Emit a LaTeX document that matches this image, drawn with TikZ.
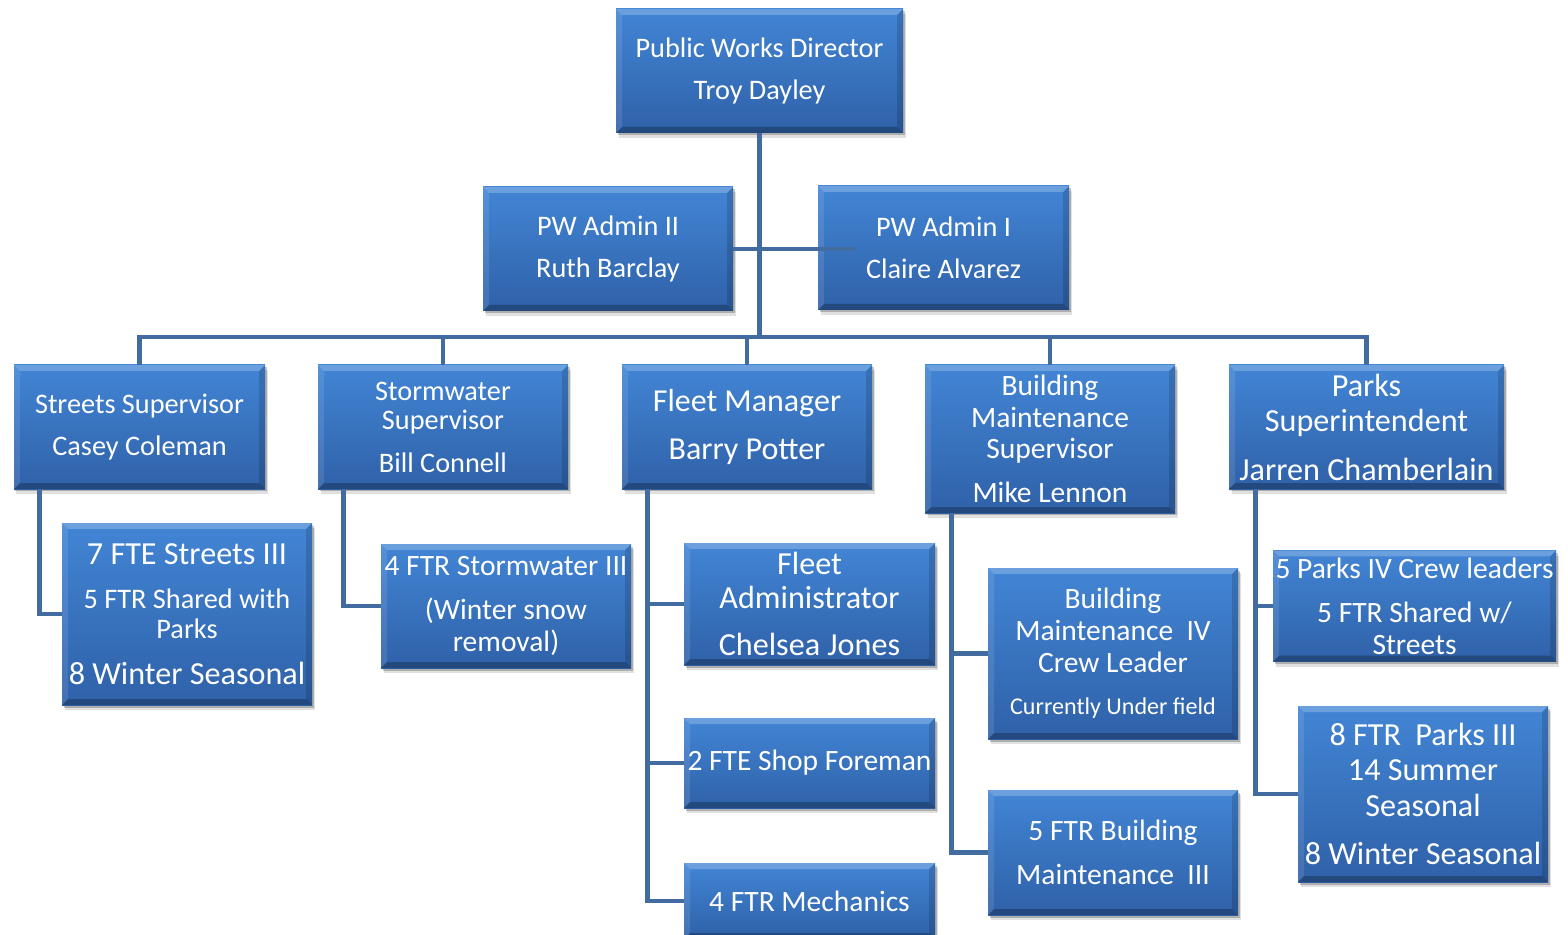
\documentclass[tikz,border=0pt]{standalone}
\usepackage{fontspec}
\setmainfont{Carlito}
\usetikzlibrary{shadows}

% text sizes (1 unit = 0.02cm)
\newcommand\fsA{\fontsize{16.1pt}{17pt}\selectfont}
\newcommand\fsB{\fontsize{16.8pt}{18.1pt}\selectfont}
\newcommand\fsC{\fontsize{18.3pt}{19.8pt}\selectfont}
\newcommand\fsP{\fontsize{18.3pt}{20.4pt}\selectfont}
\newcommand\fsD{\fontsize{18.2pt}{20.4pt}\selectfont}
\newcommand\fsE{\fontsize{13.7pt}{14pt}\selectfont}

\definecolor{boxtop}{RGB}{66,133,213}
\definecolor{boxbot}{RGB}{47,97,168}
\definecolor{linec}{RGB}{66,108,160}

\tikzset{
  pw/.style={rectangle, inner sep=0pt, text=white, align=center,
    top color=boxtop, bottom color=boxbot,
    drop shadow={shadow xshift=0.05cm, shadow yshift=-0.10cm, opacity=0.12, fill=black},
    drop shadow={shadow xshift=0.03cm, shadow yshift=-0.05cm, opacity=0.22, fill=black},
    path picture={
      % bevelled edges
      \fill[white, opacity=0.22]
        (path picture bounding box.north west) -- (path picture bounding box.north east)
        -- ([shift={(-0.12cm,-0.12cm)}]path picture bounding box.north east)
        -- ([shift={(0.12cm,-0.12cm)}]path picture bounding box.north west) -- cycle;
      \fill[white, opacity=0.10]
        (path picture bounding box.north west) -- (path picture bounding box.south west)
        -- ([shift={(0.12cm,0.12cm)}]path picture bounding box.south west)
        -- ([shift={(0.12cm,-0.12cm)}]path picture bounding box.north west) -- cycle;
      \fill[black, opacity=0.14]
        (path picture bounding box.north east) -- (path picture bounding box.south east)
        -- ([shift={(-0.12cm,0.12cm)}]path picture bounding box.south east)
        -- ([shift={(-0.12cm,-0.12cm)}]path picture bounding box.north east) -- cycle;
      \fill[black, opacity=0.25]
        (path picture bounding box.south west) -- (path picture bounding box.south east)
        -- ([shift={(-0.12cm,0.12cm)}]path picture bounding box.south east)
        -- ([shift={(0.12cm,0.12cm)}]path picture bounding box.south west) -- cycle;
    }},
  sz/.style 2 args={minimum width=#1*0.02cm, minimum height=#2*0.02cm},
  conn/.style={draw=linec, line width=0.09cm}
}

\begin{document}
\begin{tikzpicture}[x=0.02cm, y=-0.02cm]
\useasboundingbox[fill=white] (0,0) rectangle (1568,935);

% top level
\node[pw, sz={287}{124}, font=\fsA] (dir) at (759.5,71) {Public Works Director\\[6.8pt]Troy Dayley};
\node[pw, sz={250}{124}, font=\fsA] (a2) at (608,249) {PW Admin II\\[7pt]Ruth Barclay};
\node[pw, sz={251}{124}, font=\fsA] (a1) at (943.5,248) {PW Admin I\\[6.8pt]Claire Alvarez};

% supervisors
\node[pw, sz={251}{124}, font=\fsA] (ss) at (139.5,427) {Streets Supervisor\\[7pt]Casey Coleman};
\node[pw, sz={250}{124}, font=\fsA] (sw) at (443,427) {Stormwater\\Supervisor\\[7pt]Bill Connell};
\node[pw, sz={250}{124}, font=\fsD] (fm) at (747,427) {Fleet Manager\\[7.4pt]Barry Potter};
\node[pw, sz={250}{148}, font=\fsB] (bm) at (1050,439) {Building\\Maintenance\\Supervisor\\[7pt]Mike Lennon};
\node[pw, sz={275}{124}, font=\fsP] (ps) at (1366.5,427) {Parks\\Superintendent\\[7pt]Jarren Chamberlain};

% crews
\node[pw, sz={250}{182}, font=\fsA] (st) at (187,614)
  {\fsC 7 FTE Streets III\\[8.4pt]\fsA 5 FTR Shared with\\\fsA Parks\\[9.1pt]\fsC 8 Winter Seasonal};
\node[pw, sz={250}{124}, font=\fsB] (sw3) at (506,606)
  {\fsB 4 FTR Stormwater III\\[7pt]\fsB (Winter snow\\\fsB removal)};
\node[pw, sz={251}{122}, font=\fsC] (fa) at (809.5,604) {Fleet\\Administrator\\[7pt]Chelsea Jones};
\node[pw, sz={251}{90}, font=\fsB] (sf) at (809.5,763) {2 FTE Shop Foreman};
\node[pw, sz={251}{76}, font=\fsB] (mc) at (809.5,901) {4 FTR Mechanics};
\node[pw, sz={250}{171}, font=\fsB] (b4) at (1113,653.5)
  {\fsB Building\\\fsB Maintenance\ \ IV\\\fsB Crew Leader\\[6pt]\fsE Currently Under field};
\node[pw, sz={250}{125}, font=\fsB] (b3) at (1113,852.5) {5 FTR Building\\[7pt]Maintenance\ \ III};
\node[pw, sz={283}{111}, font=\fsB] (p4) at (1414.5,606) {5 Parks IV Crew leaders\\[7pt]5 FTR Shared w/\\Streets};
\node[pw, sz={250}{176}, font=\fsP] (p3) at (1423,794) {8 FTR\ \ Parks III\\14 Summer\\Seasonal\\[7pt]8 Winter Seasonal};

% connectors
\coordinate (bus) at (759.5,337);
\draw[conn] (dir.south) -- (dir.south |- bus);
\draw[conn] (ss.north) |- (bus) -| (ps.north);
\draw[conn] (sw.north) -- (sw.north |- bus);
\draw[conn] (fm.north) -- (fm.north |- bus);
\draw[conn] (bm.north) -- (bm.north |- bus);
\draw[conn] (a2.east) -- (a2.east -| a1.west) -- ++(0.74cm,0);

\draw[conn] ([xshift=0.52cm]ss.south west) |- (st.west);
\draw[conn] ([xshift=0.52cm]sw.south west) |- (sw3.west);
\draw[conn] ([xshift=0.52cm]fm.south west) |- (mc.west);
\draw[conn] ([xshift=0.52cm]fm.south west |- fa.west) -- (fa.west);
\draw[conn] ([xshift=0.52cm]fm.south west |- sf.west) -- (sf.west);
\draw[conn] ([xshift=0.54cm]bm.south west) |- (b3.west);
\draw[conn] ([xshift=0.54cm]bm.south west |- b4.west) -- (b4.west);
\draw[conn] ([xshift=0.54cm]ps.south west) |- (p3.west);
\draw[conn] ([xshift=0.54cm]ps.south west |- p4.west) -- (p4.west);
\end{tikzpicture}
\end{document}
